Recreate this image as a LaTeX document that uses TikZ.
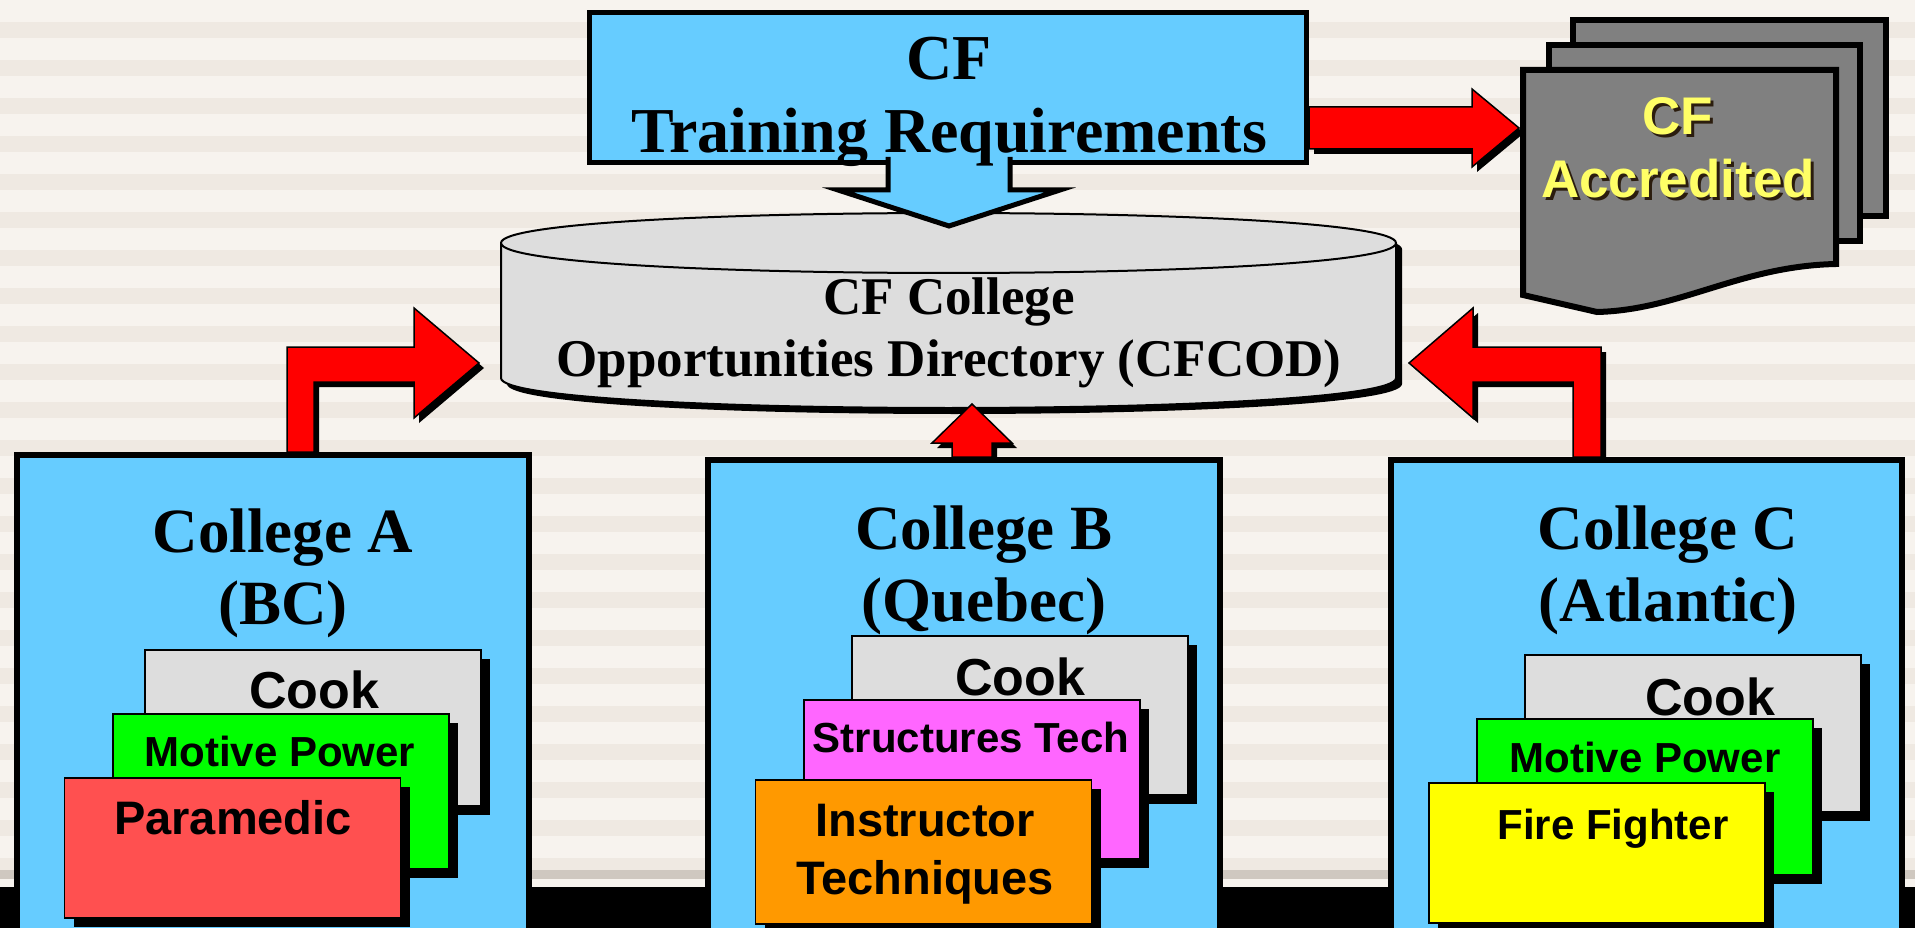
\documentclass[tikz,border=0pt]{standalone}
\usepackage{fontspec}
\setmainfont{Liberation Serif}
\setsansfont{Liberation Sans}
\usetikzlibrary{shadows}

\definecolor{boxblue}{HTML}{66CCFF}
\definecolor{cardgray}{HTML}{DDDDDD}
\definecolor{docgray}{HTML}{808080}
\definecolor{docyellow}{HTML}{FFFF66}
\definecolor{docshadow}{HTML}{2B1D0E}
\definecolor{powergreen}{HTML}{00FF00}
\definecolor{medicred}{HTML}{FF5050}
\definecolor{techpink}{HTML}{FF66FF}
\definecolor{instrorange}{HTML}{FF9900}
\definecolor{fireyellow}{HTML}{FFFF00}
\definecolor{bglight}{HTML}{F7F3EE}
\definecolor{bgdark}{HTML}{EFE9E2}
\definecolor{bandgray}{HTML}{CFC8C0}

\begin{document}
\begin{tikzpicture}[x=1pt, y=-1pt,
  blackshadow/.style={drop shadow={shadow xshift=#1, shadow yshift=-#1, fill=black, opacity=1}},
  college/.style={draw, line width=6pt, fill=boxblue, minimum width=512pt, minimum height=520pt},
  card/.style={draw, line width=1.5pt, minimum width=336pt, blackshadow=9pt},
  redblock/.style={draw, line width=1.5pt, fill=red, blackshadow=5pt},
  page/.style={draw, line width=6pt, fill=docgray},
  seriftitle/.style={font=\fontsize{63}{72}\selectfont\bfseries, align=center},
  cardlabel/.style={font=\sffamily\bfseries\fontsize{#1}{58}\selectfont, align=center}]

  \useasboundingbox (0,0) rectangle (1915,928);
  \clip (0,0) rectangle (1915,928);

  % striped background
  \fill[bgdark] (0,0) rectangle (1915,928);
  \foreach \y in {0,38,...,864}
    \fill[bglight] (0,\y) rectangle (1915,\y+22);
  \fill[bandgray] (0,870) rectangle (1915,879);
  \fill[bglight] (0,879) rectangle (1915,887);
  \fill[black] (0,887) rectangle (1915,928);

  % directory cylinder
  \draw[line width=2pt, fill=cardgray, blackshadow=6pt]
    (501,243) -- (501,378) .. controls (501,418) and (1396,418) .. (1396,378)
    -- (1396,243) .. controls (1396,203) and (501,203) .. (501,243) -- cycle;
  \draw[line width=2pt] (501,243) .. controls (501,283) and (1396,283) .. (1396,243);
  \node[font=\fontsize{53}{62}\selectfont\bfseries, align=center] (cfcod) at (949,333)
    {CF College\\Opportunities Directory (CFCOD)};

  % training requirements
  \node[draw, line width=5pt, fill=boxblue, minimum width=717pt, minimum height=150pt]
    (cfreq) at (948,87.5) {};
  \filldraw[fill=boxblue, line width=5pt] ([xshift=-60pt, yshift=8pt]cfreq.south)
    -- ++(0,33) -- ++(-50,0) -- ++(111,36) -- ++(111,-36) -- ++(-50,0) -- ++(0,-33);
  \node[font=\fontsize{64}{73}\selectfont\bfseries, align=center] (cfreqtext) at (949,101.5)
    {CF\\Training Requirements};
  \draw[redblock] ([yshift=-19.5pt]cfreq.east) -- ++(163,0) -- ++(0,-18) -- ++(47,39)
    -- ++(-47,39) -- ++(0,-18) -- ++(-163,0) -- cycle;

  % accredited document stack
  \draw[page] (1573,20) rectangle (1886,216);
  \draw[page] (1549,45) rectangle (1860,241);
  \draw[page] (1523,70) -- (1836,70) -- (1836,264)
    .. controls (1740,266) and (1680,310) .. (1597,312) -- (1523,295) -- cycle;
  \node[font=\fontsize{53}{63}\selectfont\sffamily\bfseries, align=center, text=docshadow]
    (accrshadow) at (1681,151) {CF\\Accredited};
  \node[font=\fontsize{53}{63}\selectfont\sffamily\bfseries, align=center, text=docyellow]
    (accr) at (1678,148) {CF\\Accredited};

  % colleges
  \node[college] (colA) at (273,715) {};
  \node[college] (colB) at (964,720) {};
  \node[college, minimum width=511pt] (colC) at (1646.5,720) {};

  \draw[redblock] ([xshift=14pt]colA.north) -- ++(0,-105) -- ++(127,0) -- ++(0,-39)
    -- ++(65,55) -- ++(-65,55) -- ++(0,-36) -- ++(-100,0) -- ++(0,70) -- cycle;
  \draw[redblock] ([xshift=-12pt]colB.north) -- ++(0,-14) -- ++(-20,0) -- ++(40,-39)
    -- ++(40,39) -- ++(-20,0) -- ++(0,14) -- cycle;
  \draw[redblock] ([xshift=-73.5pt]colC.north) -- ++(0,-75) -- ++(-100,0) -- ++(0,36)
    -- ++(-64,-55) -- ++(64,-55) -- ++(0,39) -- ++(128,0) -- ++(0,110) -- cycle;

  \node[seriftitle] (titleA) at (283,573) {College A\\(BC)};
  \node[seriftitle] (titleB) at (984,570) {College B\\(Quebec)};
  \node[seriftitle] (titleC) at (1668,570) {College C\\(Atlantic)};

  % programmes at college A
  \node[card, fill=cardgray, minimum height=156pt] (cookA) at (313,728) {};
  \node[cardlabel=52] (cookAtext) at (314,690) {Cook};
  \node[card, fill=powergreen, minimum height=155pt] (powerA) at (281,791.5) {};
  \node[cardlabel=42] (powerAtext) at (280,751) {Motive Power};
  \node[card, fill=medicred, minimum height=140pt] (medicA) at (232.5,848) {};
  \node[cardlabel=47] (medicAtext) at (233,818) {Paramedic};

  % programmes at college B
  \node[card, fill=cardgray, minimum height=159pt] (cookB) at (1020,715.5) {};
  \node[cardlabel=52] (cookBtext) at (1020,677) {Cook};
  \node[card, fill=techpink, minimum height=159pt] (techB) at (972,779.5) {};
  \node[cardlabel=42] (techBtext) at (971,737) {Structures Tech};
  \node[card, fill=instrorange, minimum height=144pt] (instrB) at (923.5,852) {};
  \node[cardlabel=47] (instrBtext) at (925,854) {Instructor\\Techniques};

  % programmes at college C
  \node[card, fill=cardgray, minimum height=157pt] (cookC) at (1693,733.5) {};
  \node[cardlabel=52] (cookCtext) at (1710,697) {Cook};
  \node[card, fill=powergreen, minimum height=156pt] (powerC) at (1645,797) {};
  \node[cardlabel=42] (powerCtext) at (1645,757) {Motive Power};
  \node[card, fill=fireyellow, minimum height=140pt] (fireC) at (1597,853) {};
  \node[cardlabel=42] (fireCtext) at (1613,829) {Fire Fighter};
\end{tikzpicture}
\end{document}
